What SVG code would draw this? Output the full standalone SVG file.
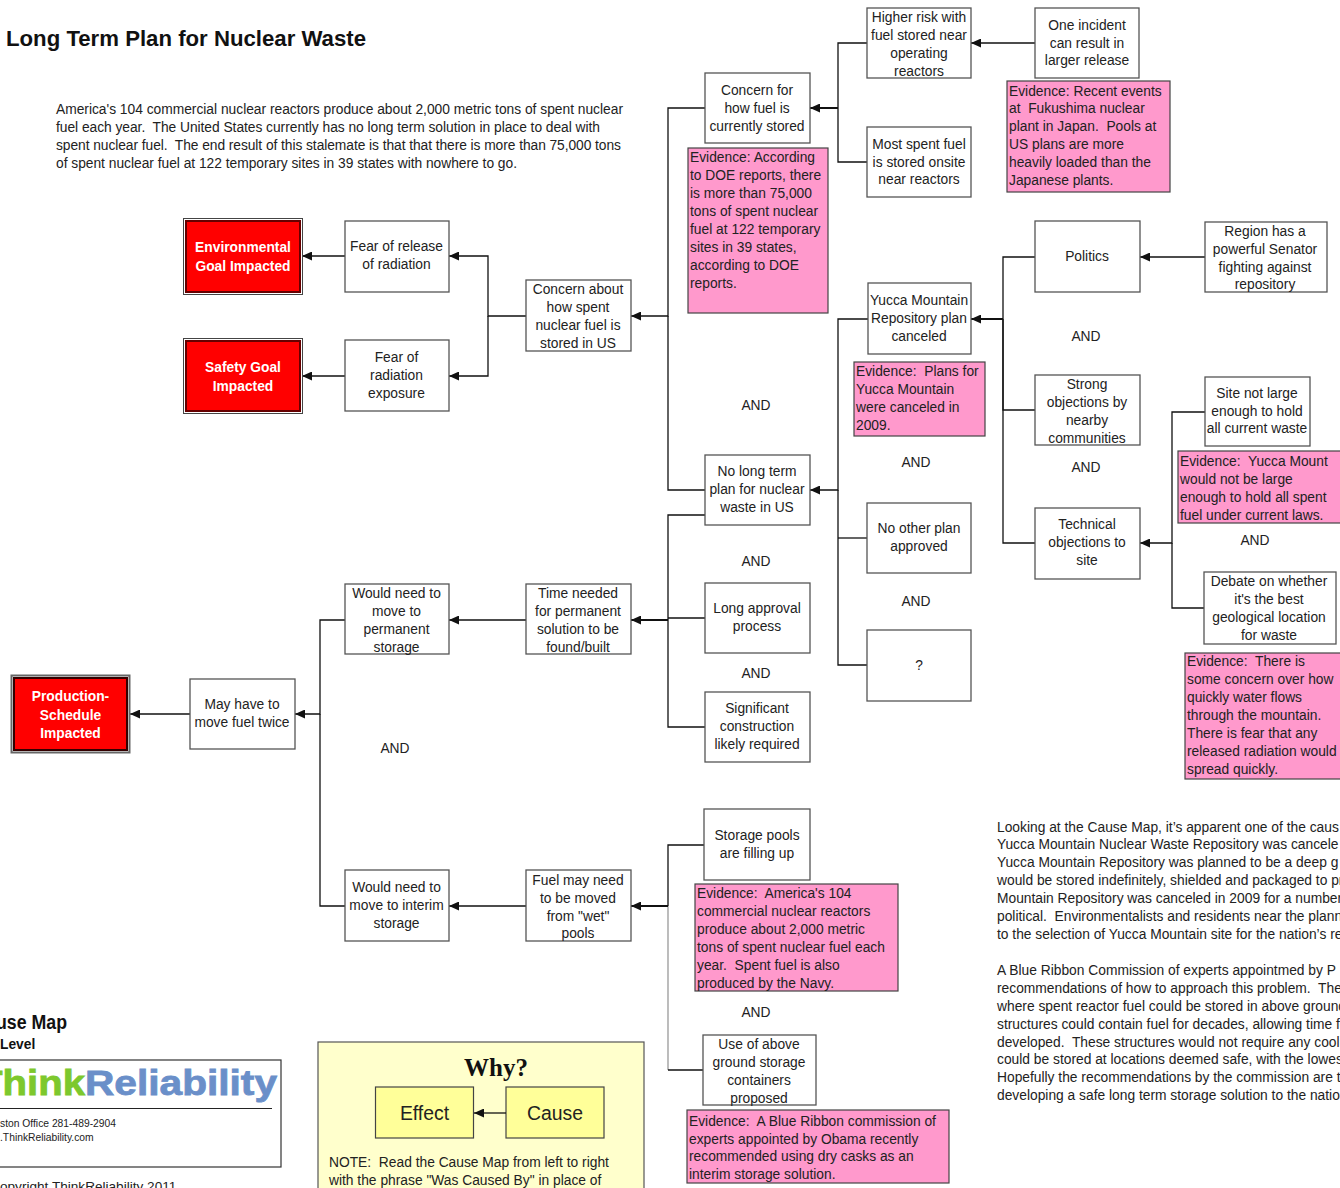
<svg xmlns="http://www.w3.org/2000/svg" width="1340" height="1188" viewBox="0 0 1340 1188">
<style>
text{font-family:"Liberation Sans",Arial,sans-serif;font-size:13.8px;fill:#222;white-space:pre}
.n rect{fill:#fff;stroke:#555;stroke-width:1.3}
.n text{text-anchor:middle}
.e rect{fill:#ff99cc;stroke:#444;stroke-width:1.2}
.g rect.o{fill:#fff;stroke:#444;stroke-width:1}
.g rect.i{fill:#ff0000;stroke:#600;stroke-width:2}
.g text{text-anchor:middle;fill:#fff;font-weight:bold}
.a{text-anchor:middle}
#connectors path{fill:none;stroke:#111;stroke-width:1.3}
#connectors path.t{stroke-width:2}
#connectors path.l{stroke:#999}
.ar{marker-end:url(#ah)}
.y rect{fill:#ffff99;stroke:#444;stroke-width:1.2}
</style>
<defs><marker id="ah" markerUnits="userSpaceOnUse" markerWidth="10" markerHeight="9" refX="10" refY="4.500" orient="auto" viewBox="0 0 10 9"><path d="M0 0L10 4.500L0 9Z" fill="#111"/></marker></defs>
<rect width="1340" height="1188" fill="#fff"/>
<text x="6" y="46" style="font-size:22.200px;font-weight:bold;fill:#111">Long Term Plan for Nuclear Waste</text>
<g id="intro"><text x="56" y="114" textLength="567" lengthAdjust="spacing">America's 104 commercial nuclear reactors produce about 2,000 metric tons of spent nuclear</text><text x="56" y="132" textLength="544" lengthAdjust="spacing">fuel each year.  The United States currently has no long term solution in place to deal with</text><text x="56" y="150" textLength="565" lengthAdjust="spacing">spent nuclear fuel.  The end result of this stalemate is that that there is more than 75,000 tons</text><text x="56" y="168" textLength="461" lengthAdjust="spacing">of spent nuclear fuel at 122 temporary sites in 39 states with nowhere to go.</text></g>
<g id="connectors">
<path class="ar" d="M345 256H302"/><path class="ar" d="M345 376H302"/>
<path class="ar" d="M526 316H488V256H449"/><path class="ar" d="M488 316V376H449"/>
<path class="ar" d="M705 108H668V316H631"/><path d="M705 490H668V316"/>
<path d="M867 43H838V108"/><path d="M867 162H838V108"/><path class="ar t" d="M838 108H810"/>
<path class="ar" d="M1035 43H971"/>
<path class="ar" d="M868 319H838V490H810"/><path d="M867 538H838"/><path d="M867 665H838V490"/>
<path d="M1035 257H1003V319"/><path d="M1035 410H1003V319"/><path d="M1035 543H1003V319"/><path class="ar t" d="M1003 319H971"/>
<path class="ar" d="M1205 257H1140"/>
<path class="ar" d="M1205 412H1172V543H1140"/><path d="M1204 608H1172V543"/>
<path d="M705 515H668V620"/><path d="M705 618H668"/><path d="M705 727H668V620"/><path class="ar t" d="M668 620H631"/>
<path class="ar" d="M526 620H449"/>
<path class="ar" d="M345 620H320V714H295"/><path d="M345 906H320V714"/>
<path class="ar" d="M190 714H130"/>
<path class="ar" d="M526 906H449"/>
<path d="M704 845H668V906"/><path class="l" d="M668 906V1070"/><path d="M703 1070H668"/><path class="ar t" d="M668 906H631"/>
</g>
<g id="env" class="g"><rect class="o" x="183.500" y="218.500" width="119" height="76"/><rect class="i" x="186" y="221" width="114" height="71"/><text x="243" y="252">Environmental</text><text x="243" y="271">Goal Impacted</text></g>
<g id="safety" class="g"><rect class="o" x="183.500" y="338.500" width="119" height="75"/><rect class="i" x="186" y="341" width="114" height="70"/><text x="243" y="372">Safety Goal</text><text x="243" y="391">Impacted</text></g>
<g id="production" class="g"><rect class="o" x="11.500" y="675.500" width="118" height="77" style="stroke:#666;stroke-width:2"/><rect class="i" x="14" y="678" width="113" height="72" style="stroke:#300"/><text x="70.500" y="701">Production-</text><text x="70.500" y="720">Schedule</text><text x="70.500" y="738">Impacted</text></g>
<g id="fear-release" class="n"><rect x="345" y="221" width="104" height="71"/><text x="396.500" y="251">Fear of release</text><text x="396.500" y="269">of radiation</text></g>
<g id="fear-exposure" class="n"><rect x="345" y="340" width="104" height="71"/><text x="396.500" y="362">Fear of</text><text x="396.500" y="380">radiation</text><text x="396.500" y="398">exposure</text></g>
<g id="concern-about" class="n"><rect x="526" y="280" width="105" height="71"/><text x="578" y="294">Concern about</text><text x="578" y="312">how spent</text><text x="578" y="330">nuclear fuel is</text><text x="578" y="348">stored in US</text></g>
<g id="concern-for" class="n"><rect x="705" y="73" width="105" height="70"/><text x="757" y="95">Concern for</text><text x="757" y="113">how fuel is</text><text x="757" y="131">currently stored</text></g>
<g id="higher" class="n"><rect x="867" y="8" width="104" height="70"/><text x="919" y="22">Higher risk with</text><text x="919" y="40">fuel stored near</text><text x="919" y="58">operating</text><text x="919" y="76">reactors</text></g>
<g id="most" class="n"><rect x="867" y="127" width="104" height="70"/><text x="919" y="149">Most spent fuel</text><text x="919" y="167">is stored onsite</text><text x="919" y="184">near reactors</text></g>
<g id="one" class="n"><rect x="1035" y="8" width="104" height="70"/><text x="1087" y="30">One incident</text><text x="1087" y="48">can result in</text><text x="1087" y="65">larger release</text></g>
<g id="ev-fukushima" class="e"><rect x="1007" y="81" width="163" height="111"/><text x="1009" y="96">Evidence: Recent events</text><text x="1009" y="113">at  Fukushima nuclear</text><text x="1009" y="131">plant in Japan.  Pools at</text><text x="1009" y="149">US plans are more</text><text x="1009" y="167">heavily loaded than the</text><text x="1009" y="185">Japanese plants.</text></g>
<g id="ev-doe" class="e"><rect x="688" y="148" width="140" height="165"/><text x="690" y="162">Evidence: According</text><text x="690" y="180">to DOE reports, there</text><text x="690" y="198">is more than 75,000</text><text x="690" y="216">tons of spent nuclear</text><text x="690" y="234">fuel at 122 temporary</text><text x="690" y="252">sites in 39 states,</text><text x="690" y="270">according to DOE</text><text x="690" y="288">reports.</text></g>
<g id="yucca" class="n"><rect x="868" y="283" width="103" height="71"/><text x="919" y="305">Yucca Mountain</text><text x="919" y="323">Repository plan</text><text x="919" y="341">canceled</text></g>
<g id="politics" class="n"><rect x="1035" y="221" width="105" height="71"/><text x="1087" y="261">Politics</text></g>
<g id="region" class="n"><rect x="1205" y="222" width="122" height="70"/><text x="1265" y="236">Region has a</text><text x="1265" y="254">powerful Senator</text><text x="1265" y="272">fighting against</text><text x="1265" y="289">repository</text></g>
<g id="ev-plans" class="e"><rect x="854" y="362" width="131" height="74"/><text x="856" y="376">Evidence:  Plans for</text><text x="856" y="394">Yucca Mountain</text><text x="856" y="412">were canceled in</text><text x="856" y="430">2009.</text></g>
<g id="strong" class="n"><rect x="1035" y="375" width="105" height="70"/><text x="1087" y="389">Strong</text><text x="1087" y="407">objections by</text><text x="1087" y="425">nearby</text><text x="1087" y="443">communities</text></g>
<g id="site" class="n"><rect x="1205" y="377" width="105" height="69"/><text x="1257" y="398">Site not large</text><text x="1257" y="416">enough to hold</text><text x="1257" y="433">all current waste</text></g>
<g id="ev-mount" class="e"><rect x="1178" y="451" width="170" height="72"/><text x="1180" y="466">Evidence:  Yucca Mount</text><text x="1180" y="484">would not be large</text><text x="1180" y="502">enough to hold all spent</text><text x="1180" y="520">fuel under current laws.</text></g>
<g id="technical" class="n"><rect x="1035" y="508" width="105" height="71"/><text x="1087" y="529">Technical</text><text x="1087" y="547">objections to</text><text x="1087" y="565">site</text></g>
<g id="debate" class="n"><rect x="1204" y="572" width="132" height="72"/><text x="1269" y="586">Debate on whether</text><text x="1269" y="604">it's the best</text><text x="1269" y="622">geological location</text><text x="1269" y="640">for waste</text></g>
<g id="ev-concern" class="e"><rect x="1185" y="653" width="165" height="126"/><text x="1187" y="666">Evidence:  There is</text><text x="1187" y="684">some concern over how</text><text x="1187" y="702">quickly water flows</text><text x="1187" y="720">through the mountain.</text><text x="1187" y="738">There is fear that any</text><text x="1187" y="756">released radiation would</text><text x="1187" y="774">spread quickly.</text></g>
<g id="no-long" class="n"><rect x="705" y="455" width="105" height="70"/><text x="757" y="476">No long term</text><text x="757" y="494">plan for nuclear</text><text x="757" y="512">waste in US</text></g>
<g id="no-other" class="n"><rect x="867" y="503" width="104" height="70"/><text x="919" y="533">No other plan</text><text x="919" y="551">approved</text></g>
<g id="unknown" class="n"><rect x="867" y="630" width="104" height="71"/><text x="919" y="670">?</text></g>
<g id="long-approval" class="n"><rect x="705" y="583" width="105" height="70"/><text x="757" y="613">Long approval</text><text x="757" y="631">process</text></g>
<g id="significant" class="n"><rect x="705" y="692" width="105" height="70"/><text x="757" y="713">Significant</text><text x="757" y="731">construction</text><text x="757" y="749">likely required</text></g>
<g id="time" class="n"><rect x="526" y="584" width="105" height="70"/><text x="578" y="598">Time needed</text><text x="578" y="616">for permanent</text><text x="578" y="634">solution to be</text><text x="578" y="652">found/built</text></g>
<g id="would-perm" class="n"><rect x="345" y="584" width="104" height="70"/><text x="396.500" y="598">Would need to</text><text x="396.500" y="616">move to</text><text x="396.500" y="634">permanent</text><text x="396.500" y="652">storage</text></g>
<g id="may" class="n"><rect x="190" y="679" width="105" height="70"/><text x="242" y="709">May have to</text><text x="242" y="727">move fuel twice</text></g>
<g id="would-interim" class="n"><rect x="345" y="870" width="104" height="71"/><text x="396.500" y="892">Would need to</text><text x="396.500" y="910">move to interim</text><text x="396.500" y="928">storage</text></g>
<g id="fuel-may" class="n"><rect x="526" y="870" width="105" height="71"/><text x="578" y="885">Fuel may need</text><text x="578" y="903">to be moved</text><text x="578" y="921">from "wet"</text><text x="578" y="938">pools</text></g>
<g id="pools" class="n"><rect x="704" y="809" width="106" height="71"/><text x="757" y="840">Storage pools</text><text x="757" y="858">are filling up</text></g>
<g id="ev-america" class="e"><rect x="695" y="884" width="203" height="107"/><text x="697" y="898">Evidence:  America's 104</text><text x="697" y="916">commercial nuclear reactors</text><text x="697" y="934">produce about 2,000 metric</text><text x="697" y="952">tons of spent nuclear fuel each</text><text x="697" y="970">year.  Spent fuel is also</text><text x="697" y="988">produced by the Navy.</text></g>
<g id="above" class="n"><rect x="703" y="1035" width="113" height="70"/><text x="759" y="1049">Use of above</text><text x="759" y="1067">ground storage</text><text x="759" y="1085">containers</text><text x="759" y="1103">proposed</text></g>
<g id="ev-blue" class="e"><rect x="687" y="1110" width="262" height="73"/><text x="689" y="1126">Evidence:  A Blue Ribbon commission of</text><text x="689" y="1144">experts appointed by Obama recently</text><text x="689" y="1161">recommended using dry casks as an</text><text x="689" y="1179">interim storage solution.</text></g>
<g id="ands"><text class="a" x="756" y="410">AND</text><text class="a" x="916" y="467">AND</text><text class="a" x="1086" y="341">AND</text><text class="a" x="1086" y="472">AND</text><text class="a" x="1255" y="545">AND</text><text class="a" x="756" y="566">AND</text><text class="a" x="916" y="606">AND</text><text class="a" x="756" y="678">AND</text><text class="a" x="395" y="753">AND</text><text class="a" x="756" y="1017">AND</text></g>
<g id="right-text"><text x="997" y="832">Looking at the Cause Map, it’s apparent one of the caus</text><text x="997" y="849">Yucca Mountain Nuclear Waste Repository was cancele</text><text x="997" y="867">Yucca Mountain Repository was planned to be a deep g</text><text x="997" y="885">would be stored indefinitely, shielded and packaged to pr</text><text x="997" y="903">Mountain Repository was canceled in 2009 for a number</text><text x="997" y="921">political.  Environmentalists and residents near the planne</text><text x="997" y="939">to the selection of Yucca Mountain site for the nation’s re</text><text x="997" y="975">A Blue Ribbon Commission of experts appointmed by P</text><text x="997" y="993">recommendations of how to approach this problem.  The</text><text x="997" y="1011">where spent reactor fuel could be stored in above ground</text><text x="997" y="1029">structures could contain fuel for decades, allowing time fo</text><text x="997" y="1047">developed.  These structures would not require any cooli</text><text x="997" y="1064">could be stored at locations deemed safe, with the lowes</text><text x="997" y="1082">Hopefully the recommendations by the commission are t</text><text x="997" y="1100">developing a safe long term storage solution to the natio</text></g>
<g id="legend-left"><text x="-4" y="1029" textLength="71" lengthAdjust="spacingAndGlyphs" style="font-size:19.500px;font-weight:bold;fill:#111">use Map</text><text x="0" y="1049" style="font-weight:bold;fill:#111">Level</text>
<rect x="-5" y="1060" width="286" height="107" fill="#fff" stroke="#333" stroke-width="1.2"/>
<text x="-22" y="1095" textLength="107" lengthAdjust="spacingAndGlyphs" style="font-size:35px;font-weight:bold;fill:#7dc82d;stroke:#7dc82d;stroke-width:.8">Think</text><text x="85" y="1095" textLength="192" lengthAdjust="spacingAndGlyphs" style="font-size:35px;font-weight:bold;fill:#6a8fc9;stroke:#6a8fc9;stroke-width:.8">Reliability</text>
<path d="M0 1108.500H272" stroke="#222" stroke-width="1" fill="none"/>
<text x="0" y="1127" style="font-size:10.300px">ston Office 281-489-2904</text><text x="0" y="1141" style="font-size:10.300px">.ThinkReliability.com</text>
<text x="0" y="1191" style="font-size:13.600px">opyright ThinkReliability 2011</text></g>
<g id="legend-why"><rect x="318" y="1042" width="326" height="160" fill="#ffffcc" stroke="#555" stroke-width="1.2"/>
<text x="496" y="1076" style="font-family:'Liberation Serif',serif;font-size:25px;font-weight:bold;text-anchor:middle;fill:#111">Why?</text>
<g id="effect" class="y"><rect x="375.500" y="1087" width="98" height="51"/><text x="424.500" y="1120" style="font-size:19.400px;text-anchor:middle">Effect</text></g>
<g id="cause" class="y"><rect x="506" y="1087" width="98" height="51"/><text x="555" y="1120" style="font-size:19.400px;text-anchor:middle">Cause</text></g>
<path d="M506 1113H474" fill="none" stroke="#111" stroke-width="1.3" marker-end="url(#ah)"/>
<text x="329" y="1167">NOTE:  Read the Cause Map from left to right</text><text x="329" y="1185">with the phrase "Was Caused By" in place of</text></g>
</svg>
